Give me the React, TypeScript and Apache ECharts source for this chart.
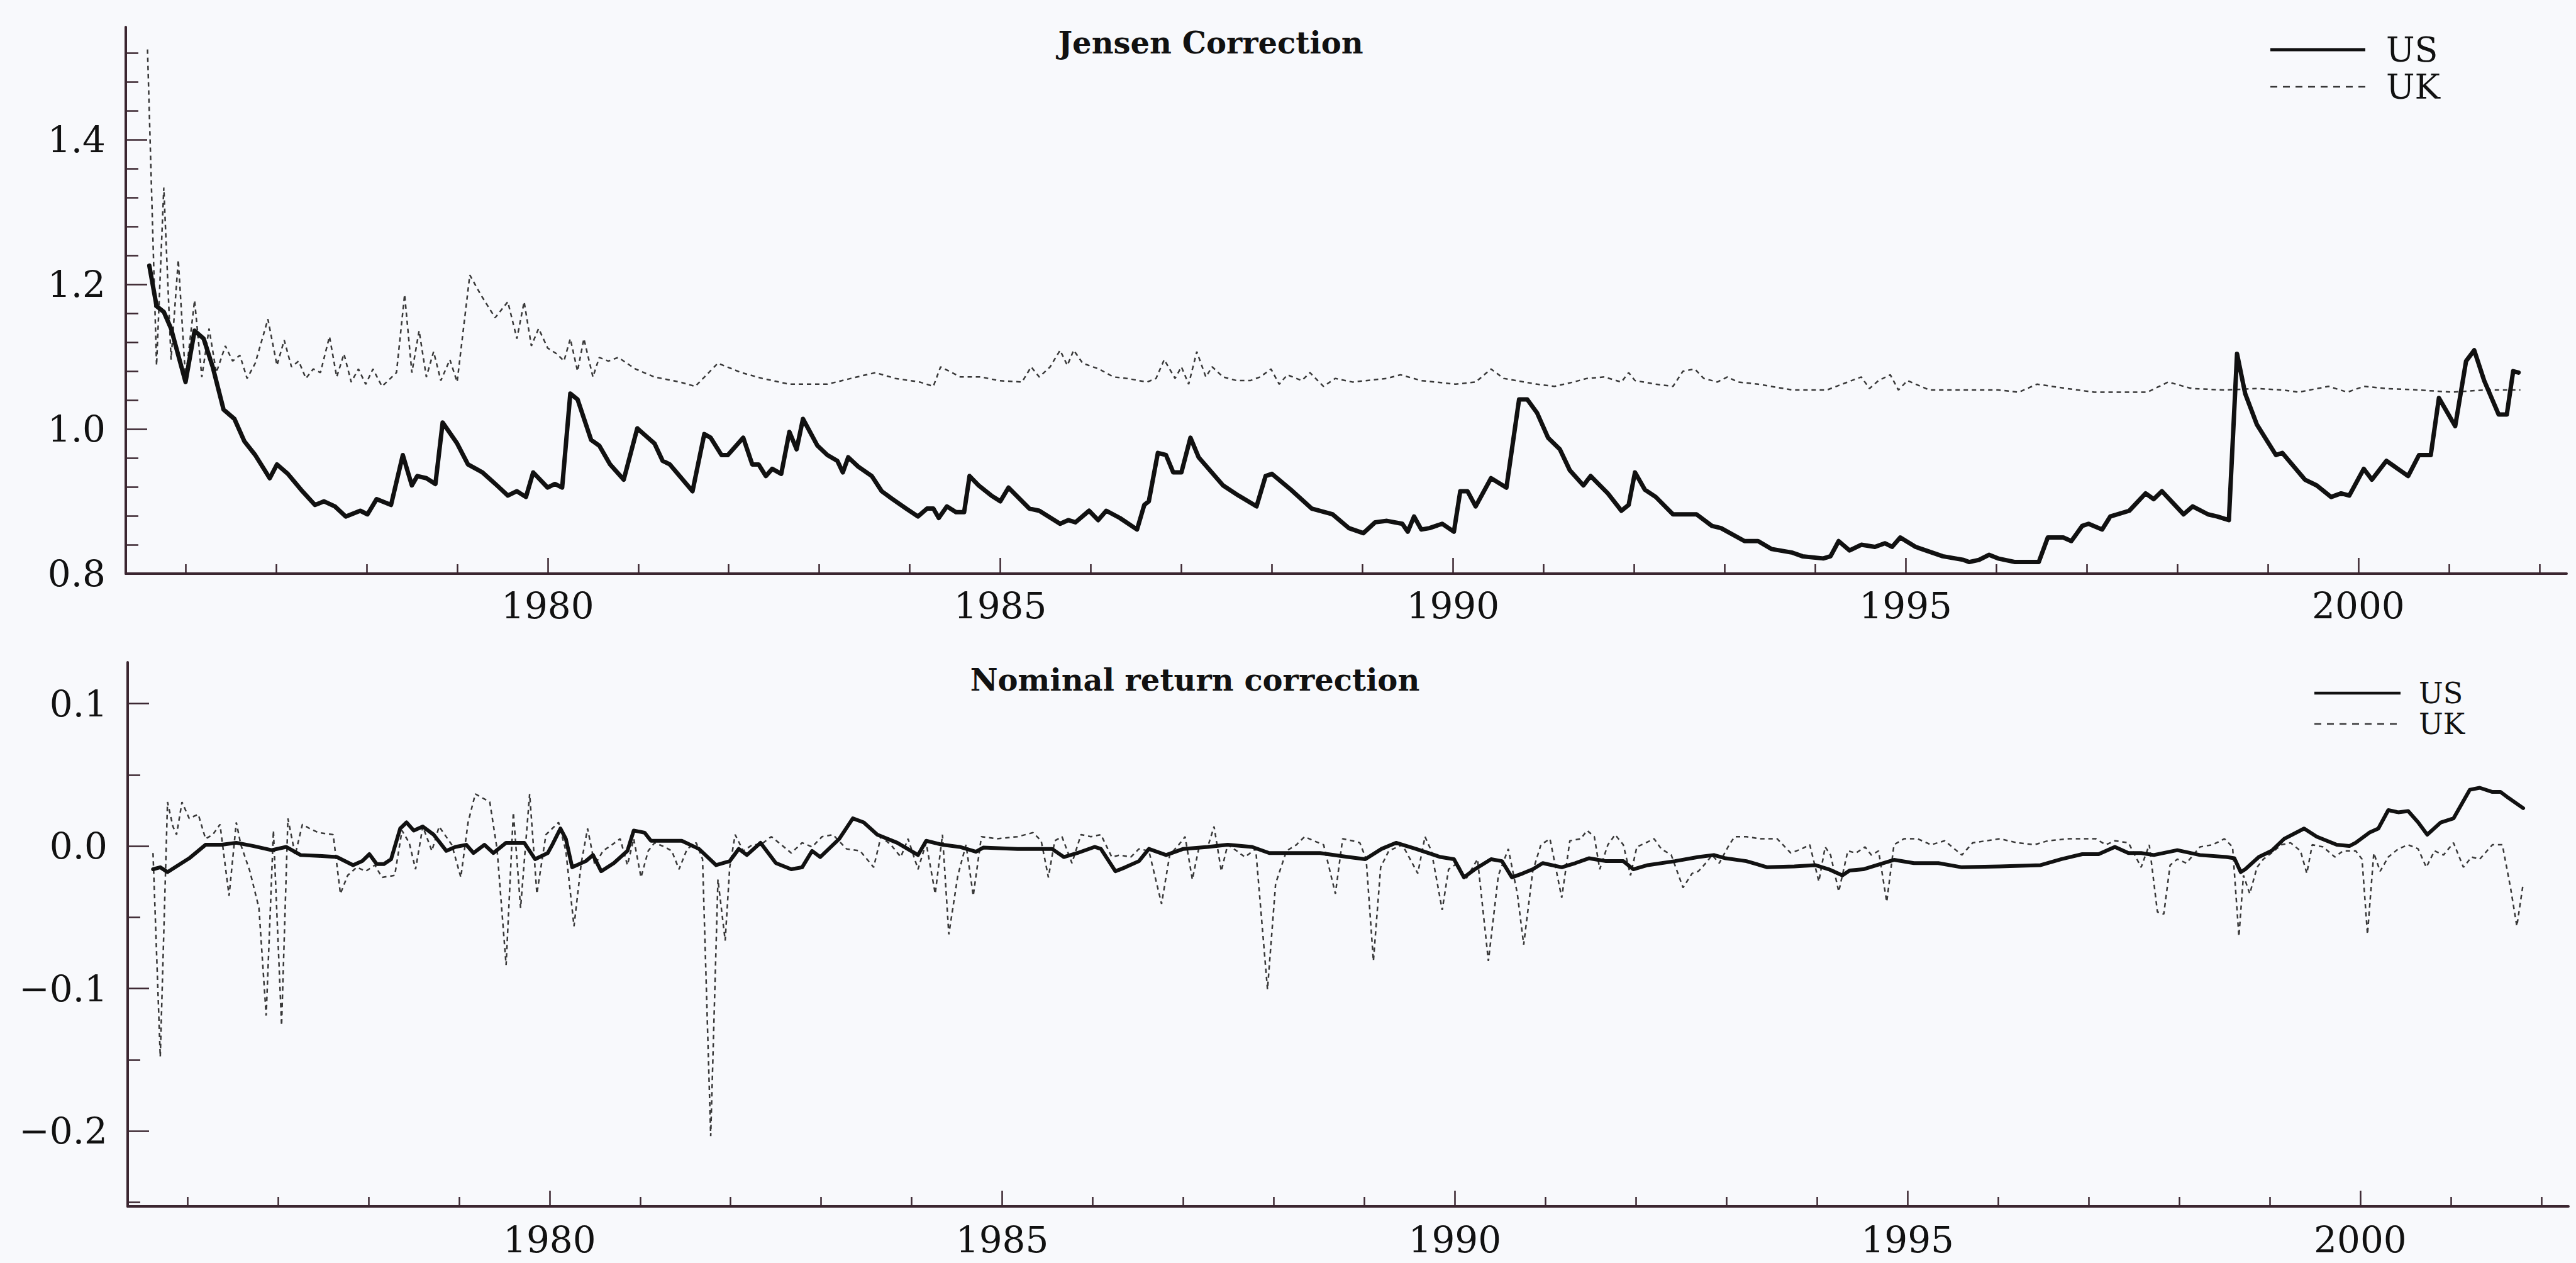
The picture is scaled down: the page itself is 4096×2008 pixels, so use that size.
import React, { useEffect, useRef } from "react";
import * as echarts from "echarts";

// Time axis (years) shared by both panels
const X_MIN = 1975.34;
const X_MAX = 2002.3;
const yearMajor = [1980, 1985, 1990, 1995, 2000];
const yearMinor = [1976, 1977, 1978, 1979, 1981, 1982, 1983, 1984, 1986, 1987, 1988, 1989, 1991, 1992, 1993, 1994, 1996, 1997, 1998, 1999, 2001, 2002];

// Upper panel value axis
const jensenMin = 0.8;
const jensenMax = 1.556;
const jensenMajor = [0.8, 1.0, 1.2, 1.4];
const jensenMinor = [0.84, 0.88, 0.92, 0.96, 1.04, 1.08, 1.12, 1.16, 1.24, 1.28, 1.32, 1.36, 1.44, 1.48, 1.52];

// Lower panel value axis
const nominalMin = -0.253;
const nominalMax = 0.129;
const nominalMajor = [-0.2, -0.1, 0.0, 0.1];
const nominalMinor = [-0.25, -0.15, -0.05, 0.05];

// Jensen correction, US  [year, value]
const jensenUS = [[1975.60,1.226],[1975.68,1.170],[1975.76,1.162],[1975.84,1.139],[1976.00,1.065],[1976.10,1.136],[1976.20,1.125],[1976.30,1.086],[1976.42,1.027],[1976.54,1.014],[1976.65,0.983],[1976.77,0.964],[1976.93,0.932],[1977.01,0.951],[1977.13,0.938],[1977.29,0.914],[1977.43,0.895],[1977.53,0.900],[1977.65,0.893],[1977.77,0.879],[1977.93,0.887],[1978.01,0.882],[1978.11,0.903],[1978.27,0.895],[1978.40,0.964],[1978.50,0.922],[1978.56,0.935],[1978.66,0.932],[1978.76,0.924],[1978.84,1.009],[1979.00,0.980],[1979.12,0.951],[1979.28,0.940],[1979.44,0.922],[1979.56,0.908],[1979.66,0.914],[1979.76,0.906],[1979.84,0.940],[1980.00,0.919],[1980.08,0.924],[1980.16,0.919],[1980.25,1.049],[1980.33,1.041],[1980.48,0.985],[1980.57,0.977],[1980.69,0.951],[1980.84,0.930],[1980.99,1.001],[1981.18,0.980],[1981.27,0.956],[1981.35,0.951],[1981.60,0.914],[1981.73,0.993],[1981.80,0.988],[1981.92,0.964],[1981.99,0.964],[1982.16,0.988],[1982.26,0.951],[1982.33,0.951],[1982.41,0.935],[1982.48,0.945],[1982.58,0.938],[1982.67,0.996],[1982.75,0.972],[1982.82,1.014],[1982.98,0.977],[1983.09,0.964],[1983.20,0.956],[1983.26,0.940],[1983.32,0.961],[1983.43,0.948],[1983.58,0.935],[1983.69,0.914],[1983.81,0.903],[1983.96,0.890],[1984.09,0.879],[1984.19,0.890],[1984.26,0.890],[1984.32,0.877],[1984.41,0.893],[1984.51,0.885],[1984.60,0.885],[1984.66,0.935],[1984.76,0.922],[1984.90,0.908],[1985.00,0.900],[1985.09,0.919],[1985.32,0.890],[1985.43,0.887],[1985.66,0.869],[1985.75,0.874],[1985.83,0.871],[1985.98,0.887],[1986.08,0.874],[1986.17,0.887],[1986.32,0.877],[1986.51,0.861],[1986.59,0.895],[1986.64,0.900],[1986.74,0.967],[1986.83,0.964],[1986.91,0.940],[1987.00,0.940],[1987.10,0.988],[1987.19,0.961],[1987.46,0.922],[1987.63,0.908],[1987.83,0.893],[1987.93,0.935],[1988.00,0.938],[1988.21,0.916],[1988.44,0.890],[1988.67,0.882],[1988.85,0.863],[1989.01,0.856],[1989.14,0.871],[1989.27,0.873],[1989.44,0.869],[1989.50,0.858],[1989.57,0.879],[1989.65,0.861],[1989.74,0.863],[1989.88,0.869],[1990.01,0.858],[1990.08,0.914],[1990.16,0.914],[1990.25,0.893],[1990.42,0.932],[1990.59,0.919],[1990.73,1.041],[1990.82,1.041],[1990.93,1.022],[1991.05,0.988],[1991.18,0.972],[1991.29,0.943],[1991.44,0.922],[1991.52,0.935],[1991.71,0.911],[1991.86,0.887],[1991.94,0.895],[1992.01,0.940],[1992.12,0.916],[1992.24,0.906],[1992.43,0.882],[1992.69,0.882],[1992.86,0.866],[1992.96,0.863],[1993.22,0.845],[1993.37,0.845],[1993.52,0.834],[1993.75,0.829],[1993.86,0.824],[1994.09,0.821],[1994.17,0.824],[1994.26,0.845],[1994.38,0.832],[1994.51,0.840],[1994.66,0.837],[1994.77,0.842],[1994.85,0.837],[1994.94,0.850],[1995.11,0.837],[1995.41,0.824],[1995.64,0.819],[1995.70,0.816],[1995.81,0.819],[1995.92,0.826],[1996.02,0.821],[1996.21,0.816],[1996.47,0.816],[1996.57,0.850],[1996.74,0.850],[1996.83,0.845],[1996.95,0.866],[1997.02,0.869],[1997.17,0.861],[1997.26,0.879],[1997.47,0.887],[1997.65,0.911],[1997.74,0.903],[1997.83,0.914],[1998.07,0.882],[1998.17,0.893],[1998.34,0.882],[1998.44,0.879],[1998.57,0.874],[1998.66,1.104],[1998.75,1.049],[1998.88,1.006],[1999.09,0.964],[1999.16,0.967],[1999.41,0.930],[1999.54,0.922],[1999.70,0.906],[1999.81,0.911],[1999.90,0.908],[2000.06,0.945],[2000.15,0.930],[2000.31,0.956],[2000.55,0.935],[2000.67,0.964],[2000.80,0.964],[2000.89,1.043],[2001.07,1.004],[2001.19,1.094],[2001.28,1.109],[2001.39,1.067],[2001.55,1.020],[2001.64,1.020],[2001.71,1.080],[2001.77,1.078]];

// Jensen correction, UK  [year, value]
const jensenUK = [[1975.58,1.525],[1975.68,1.088],[1975.76,1.334],[1975.84,1.096],[1975.92,1.234],[1976.00,1.070],[1976.10,1.178],[1976.18,1.072],[1976.26,1.139],[1976.34,1.078],[1976.44,1.115],[1976.52,1.094],[1976.60,1.102],[1976.68,1.070],[1976.77,1.091],[1976.91,1.152],[1977.01,1.088],[1977.09,1.123],[1977.17,1.086],[1977.25,1.094],[1977.33,1.070],[1977.41,1.083],[1977.49,1.078],[1977.59,1.128],[1977.67,1.072],[1977.75,1.104],[1977.83,1.065],[1977.91,1.083],[1977.99,1.062],[1978.07,1.083],[1978.17,1.059],[1978.33,1.078],[1978.42,1.186],[1978.50,1.078],[1978.58,1.136],[1978.66,1.072],[1978.74,1.107],[1978.82,1.067],[1978.92,1.096],[1979.00,1.065],[1979.14,1.213],[1979.26,1.186],[1979.42,1.154],[1979.56,1.176],[1979.66,1.125],[1979.74,1.176],[1979.82,1.115],[1979.90,1.139],[1980.00,1.112],[1980.10,1.104],[1980.18,1.094],[1980.25,1.125],[1980.33,1.080],[1980.40,1.125],[1980.50,1.072],[1980.57,1.099],[1980.67,1.094],[1980.78,1.099],[1980.97,1.083],[1981.18,1.072],[1981.46,1.065],[1981.63,1.059],[1981.88,1.091],[1982.14,1.078],[1982.37,1.070],[1982.67,1.062],[1982.90,1.062],[1983.09,1.062],[1983.35,1.070],[1983.62,1.078],[1983.84,1.070],[1984.11,1.065],[1984.26,1.059],[1984.34,1.086],[1984.56,1.072],[1984.79,1.072],[1984.98,1.067],[1985.24,1.065],[1985.34,1.086],[1985.43,1.072],[1985.55,1.086],[1985.66,1.109],[1985.74,1.088],[1985.81,1.109],[1985.91,1.091],[1986.09,1.083],[1986.25,1.072],[1986.40,1.070],[1986.62,1.065],[1986.72,1.070],[1986.81,1.096],[1986.93,1.070],[1987.00,1.086],[1987.08,1.062],[1987.17,1.107],[1987.27,1.072],[1987.34,1.086],[1987.46,1.072],[1987.61,1.067],[1987.76,1.067],[1987.87,1.072],[1987.99,1.083],[1988.08,1.062],[1988.17,1.075],[1988.33,1.067],[1988.42,1.078],[1988.57,1.059],[1988.70,1.070],[1988.89,1.065],[1989.27,1.070],[1989.42,1.075],[1989.65,1.067],[1990.03,1.062],[1990.25,1.065],[1990.42,1.083],[1990.56,1.070],[1990.93,1.062],[1991.12,1.059],[1991.33,1.065],[1991.48,1.070],[1991.67,1.072],[1991.86,1.065],[1991.94,1.078],[1992.01,1.067],[1992.24,1.062],[1992.43,1.059],[1992.54,1.080],[1992.67,1.083],[1992.77,1.070],[1992.92,1.065],[1993.03,1.072],[1993.15,1.065],[1993.37,1.062],[1993.75,1.054],[1994.13,1.054],[1994.36,1.065],[1994.51,1.072],[1994.60,1.056],[1994.70,1.067],[1994.83,1.075],[1994.92,1.054],[1995.02,1.067],[1995.26,1.054],[1995.64,1.054],[1996.02,1.054],[1996.25,1.051],[1996.45,1.062],[1996.78,1.056],[1997.08,1.051],[1997.44,1.051],[1997.67,1.051],[1997.90,1.065],[1998.16,1.056],[1998.52,1.054],[1998.88,1.056],[1999.16,1.054],[1999.34,1.051],[1999.67,1.059],[1999.88,1.051],[2000.06,1.059],[2000.31,1.056],[2000.67,1.054],[2001.03,1.051],[2001.39,1.054],[2001.79,1.054]];

// Nominal return correction, US  [year, value]
const nominalUS = [[1975.62,-0.0163],[1975.70,-0.0149],[1975.78,-0.0183],[1975.90,-0.0134],[1976.02,-0.0086],[1976.20,0.0009],[1976.38,0.0009],[1976.54,0.0023],[1976.73,0.0],[1976.93,-0.0029],[1977.09,-0.0006],[1977.25,-0.0063],[1977.45,-0.0069],[1977.65,-0.0077],[1977.83,-0.0134],[1977.93,-0.0106],[1978.01,-0.0057],[1978.09,-0.0126],[1978.17,-0.0126],[1978.25,-0.0092],[1978.35,0.0123],[1978.42,0.0166],[1978.50,0.0109],[1978.60,0.0137],[1978.72,0.008],[1978.86,-0.0034],[1978.96,-0.0006],[1979.08,0.0009],[1979.16,-0.0049],[1979.28,0.0009],[1979.38,-0.0049],[1979.52,0.0023],[1979.72,0.0023],[1979.84,-0.0092],[1979.98,-0.0049],[1980.03,0.0009],[1980.12,0.0123],[1980.18,0.0051],[1980.25,-0.0149],[1980.40,-0.0106],[1980.48,-0.0063],[1980.57,-0.0177],[1980.71,-0.012],[1980.86,-0.0034],[1980.93,0.0109],[1981.05,0.0094],[1981.12,0.0037],[1981.46,0.0037],[1981.65,-0.002],[1981.84,-0.0134],[1981.99,-0.0106],[1982.09,-0.002],[1982.18,-0.0063],[1982.33,0.0023],[1982.50,-0.012],[1982.67,-0.0163],[1982.79,-0.0149],[1982.90,-0.0034],[1982.99,-0.0077],[1983.20,0.0051],[1983.35,0.0194],[1983.47,0.0166],[1983.62,0.008],[1983.84,0.0023],[1984.07,-0.0063],[1984.16,0.0037],[1984.34,0.0009],[1984.53,-0.0006],[1984.71,-0.004],[1984.79,-0.0011],[1985.17,-0.002],[1985.55,-0.002],[1985.68,-0.0077],[1985.83,-0.0049],[1986.02,-0.0006],[1986.09,-0.002],[1986.25,-0.0177],[1986.36,-0.0149],[1986.51,-0.0106],[1986.62,-0.002],[1986.81,-0.0063],[1987.00,-0.002],[1987.27,-0.0006],[1987.49,0.0009],[1987.76,-0.0006],[1987.95,-0.0049],[1988.21,-0.0049],[1988.51,-0.0049],[1988.82,-0.0077],[1989.01,-0.0092],[1989.19,-0.002],[1989.35,0.0023],[1989.57,-0.002],[1989.84,-0.0077],[1989.99,-0.0092],[1990.10,-0.022],[1990.22,-0.0163],[1990.40,-0.0092],[1990.52,-0.0106],[1990.63,-0.022],[1990.75,-0.0192],[1990.86,-0.0163],[1990.97,-0.012],[1991.18,-0.0149],[1991.33,-0.012],[1991.48,-0.0086],[1991.67,-0.0106],[1991.86,-0.0106],[1991.97,-0.0163],[1992.13,-0.0134],[1992.43,-0.0106],[1992.69,-0.0077],[1992.86,-0.0063],[1992.99,-0.0086],[1993.22,-0.0106],[1993.45,-0.0149],[1993.75,-0.0143],[1993.98,-0.0134],[1994.13,-0.0163],[1994.28,-0.0206],[1994.36,-0.0172],[1994.51,-0.0163],[1994.73,-0.012],[1994.85,-0.0097],[1995.07,-0.012],[1995.34,-0.012],[1995.60,-0.0149],[1996.02,-0.0143],[1996.47,-0.0134],[1996.70,-0.0092],[1996.93,-0.0057],[1997.11,-0.0057],[1997.29,-0.0006],[1997.44,-0.0049],[1997.58,-0.0049],[1997.72,-0.0063],[1997.98,-0.0029],[1998.23,-0.0063],[1998.52,-0.0077],[1998.61,-0.0086],[1998.68,-0.0183],[1998.73,-0.0163],[1998.88,-0.0077],[1999.02,-0.0034],[1999.16,0.0051],[1999.38,0.0123],[1999.52,0.0066],[1999.74,0.0009],[1999.88,0.0],[1999.95,0.0023],[2000.10,0.0094],[2000.20,0.0123],[2000.31,0.0252],[2000.42,0.0237],[2000.53,0.0246],[2000.64,0.0166],[2000.74,0.008],[2000.89,0.0166],[2001.03,0.0194],[2001.21,0.0395],[2001.32,0.0409],[2001.46,0.038],[2001.55,0.038],[2001.64,0.0337],[2001.80,0.0266]];

// Nominal return correction, UK  [year, value]
const nominalUK = [[1975.62,-0.0049],[1975.70,-0.148],[1975.78,0.0309],[1975.84,0.0137],[1975.88,0.008],[1975.94,0.0309],[1976.02,0.0194],[1976.12,0.0223],[1976.20,0.0051],[1976.28,0.008],[1976.36,0.0152],[1976.46,-0.0349],[1976.54,0.0166],[1976.59,0.0009],[1976.69,-0.0177],[1976.79,-0.0435],[1976.87,-0.119],[1976.95,0.0109],[1977.04,-0.126],[1977.11,0.0194],[1977.19,-0.0063],[1977.27,0.0152],[1977.35,0.0123],[1977.45,0.0094],[1977.61,0.008],[1977.69,-0.0335],[1977.77,-0.0206],[1977.87,-0.0149],[1977.97,-0.0177],[1978.07,-0.0134],[1978.15,-0.022],[1978.29,-0.0206],[1978.37,0.0109],[1978.45,0.0023],[1978.52,-0.0163],[1978.60,0.0137],[1978.70,-0.0034],[1978.78,0.0137],[1978.92,0.0009],[1979.02,-0.022],[1979.10,0.0166],[1979.18,0.0366],[1979.34,0.0309],[1979.42,-0.002],[1979.52,-0.0835],[1979.60,0.0237],[1979.68,-0.0435],[1979.78,0.0366],[1979.86,-0.0335],[1979.96,0.008],[1980.10,0.0166],[1980.18,-0.0034],[1980.27,-0.0563],[1980.35,-0.012],[1980.42,0.0123],[1980.50,-0.0134],[1980.59,-0.0034],[1980.69,0.0009],[1980.78,0.0051],[1980.86,-0.0134],[1980.93,0.0051],[1981.01,-0.022],[1981.09,-0.0034],[1981.16,0.0023],[1981.27,-0.0006],[1981.35,-0.0034],[1981.43,-0.0163],[1981.52,-0.002],[1981.62,0.0023],[1981.69,-0.0092],[1981.78,-0.2036],[1981.86,-0.0235],[1981.94,-0.0664],[1981.99,-0.0149],[1982.05,0.008],[1982.14,-0.0034],[1982.24,0.0009],[1982.33,0.0009],[1982.45,0.0066],[1982.56,0.0009],[1982.67,-0.0049],[1982.79,0.0023],[1982.90,-0.0006],[1983.01,0.0066],[1983.13,0.008],[1983.28,-0.002],[1983.43,-0.0034],[1983.58,-0.0149],[1983.66,0.0066],[1983.77,0.0009],[1983.88,-0.0077],[1983.96,0.0051],[1984.07,-0.0163],[1984.16,0.0023],[1984.26,-0.0335],[1984.34,0.008],[1984.41,-0.062],[1984.51,-0.0206],[1984.60,0.0009],[1984.68,-0.0349],[1984.77,0.0066],[1984.94,0.0051],[1985.17,0.0066],[1985.34,0.0094],[1985.43,0.0037],[1985.51,-0.022],[1985.58,0.0037],[1985.66,0.0066],[1985.77,-0.012],[1985.87,0.008],[1985.98,0.0066],[1986.09,0.008],[1986.21,-0.0077],[1986.30,-0.0063],[1986.42,-0.0077],[1986.51,-0.002],[1986.62,-0.0034],[1986.76,-0.0406],[1986.85,-0.0063],[1986.95,0.0009],[1987.02,0.0066],[1987.10,-0.0235],[1987.17,-0.002],[1987.27,-0.0006],[1987.34,0.0137],[1987.42,-0.0177],[1987.49,0.0009],[1987.59,-0.0034],[1987.68,-0.0077],[1987.80,-0.002],[1987.93,-0.1007],[1988.02,-0.0263],[1988.14,-0.0034],[1988.25,0.0009],[1988.34,0.0066],[1988.44,0.0037],[1988.55,0.0009],[1988.68,-0.0335],[1988.76,0.0051],[1988.87,0.0037],[1988.95,0.0023],[1989.02,-0.0092],[1989.10,-0.0807],[1989.18,-0.0149],[1989.27,-0.0034],[1989.42,0.0009],[1989.59,-0.0192],[1989.67,0.0066],[1989.74,-0.0034],[1989.86,-0.0449],[1989.93,-0.0163],[1990.03,-0.012],[1990.12,-0.0235],[1990.25,-0.0092],[1990.37,-0.0807],[1990.48,-0.0206],[1990.59,-0.002],[1990.69,-0.0335],[1990.76,-0.0692],[1990.86,-0.0177],[1990.95,0.0009],[1991.05,0.0051],[1991.18,-0.0363],[1991.27,0.0037],[1991.39,0.0051],[1991.46,0.0109],[1991.54,0.0066],[1991.60,-0.0163],[1991.69,0.0009],[1991.77,0.008],[1991.86,0.0009],[1991.94,-0.0206],[1992.01,-0.0006],[1992.11,0.0023],[1992.20,0.0051],[1992.28,-0.002],[1992.39,-0.0063],[1992.52,-0.0292],[1992.62,-0.0192],[1992.69,-0.0177],[1992.79,-0.0106],[1992.84,-0.0063],[1992.92,-0.012],[1993.03,0.0009],[1993.09,0.0066],[1993.22,0.0066],[1993.37,0.0051],[1993.56,0.0051],[1993.71,-0.0049],[1993.83,-0.002],[1993.92,0.0009],[1994.02,-0.0249],[1994.09,-0.0006],[1994.15,-0.0063],[1994.24,-0.032],[1994.34,-0.0034],[1994.43,-0.0049],[1994.53,-0.0006],[1994.60,-0.0063],[1994.68,-0.0034],[1994.77,-0.0392],[1994.85,0.0009],[1994.96,0.0051],[1995.11,0.0051],[1995.26,0.0009],[1995.41,0.0037],[1995.60,-0.0063],[1995.72,0.0023],[1995.87,0.0037],[1996.02,0.0051],[1996.21,0.0023],[1996.40,0.0009],[1996.55,0.0037],[1996.78,0.0051],[1997.08,0.0051],[1997.19,0.0009],[1997.29,0.0037],[1997.44,0.0023],[1997.58,-0.0149],[1997.67,0.0009],[1997.76,-0.0463],[1997.83,-0.0478],[1997.90,-0.0134],[1997.98,-0.0092],[1998.08,-0.012],[1998.23,-0.0006],[1998.37,0.0009],[1998.50,0.0051],[1998.59,-0.0006],[1998.66,-0.0635],[1998.71,-0.0206],[1998.78,-0.0335],[1998.86,-0.0149],[1998.93,-0.0092],[1999.02,-0.0049],[1999.13,0.0009],[1999.23,0.0023],[1999.34,-0.0034],[1999.41,-0.0192],[1999.47,0.0009],[1999.59,-0.0006],[1999.72,-0.0077],[1999.81,-0.0034],[1999.95,-0.0034],[2000.02,-0.0092],[2000.08,-0.062],[2000.15,-0.0049],[2000.22,-0.0177],[2000.31,-0.0077],[2000.42,-0.002],[2000.53,0.0009],[2000.64,-0.002],[2000.73,-0.0149],[2000.82,-0.0034],[2000.92,-0.0063],[2001.03,0.0023],[2001.14,-0.0149],[2001.23,-0.0077],[2001.32,-0.0092],[2001.46,0.0009],[2001.57,0.0009],[2001.66,-0.0292],[2001.73,-0.0563],[2001.80,-0.0263]];

const panelTitles = ["Jensen Correction", "Nominal return correction"];
const seriesNames = ["US", "UK"];

const SERIF = '"DejaVu Serif", "Liberation Serif", serif';
const INK = "#111111";
const AXIS = "#3b2630";
const DOT = "#383838";
const BG = "#f8f9fc";

function fmt(v: number) {
  return v.toFixed(1).replace("-", "\u2212");
}

function xAxes(gridIndex: number, labelMargin: number) {
  const common = {
    type: "value",
    gridIndex,
    min: X_MIN,
    max: X_MAX,
    position: "bottom",
    splitLine: { show: false },
  };
  return [
    {
      ...common,
      axisLine: { show: true, onZero: false, lineStyle: { color: AXIS, width: 4 } },
      axisTick: { show: true, inside: true, length: 25, customValues: yearMajor, lineStyle: { color: AXIS, width: 2.5 } },
      axisLabel: {
        show: true,
        customValues: yearMajor,
        margin: labelMargin,
        color: INK,
        fontFamily: SERIF,
        fontSize: 58,
        formatter: (v: number) => String(Math.round(v)),
      },
    },
    {
      ...common,
      axisLine: { show: false, onZero: false },
      axisTick: { show: true, inside: true, length: 15, customValues: yearMinor, lineStyle: { color: AXIS, width: 2.5 } },
      axisLabel: { show: false },
    },
  ];
}

function yAxes(gridIndex: number, min: number, max: number, major: number[], minor: number[]) {
  const common = {
    type: "value",
    gridIndex,
    min,
    max,
    position: "left",
    splitLine: { show: false },
  };
  return [
    {
      ...common,
      axisLine: { show: true, onZero: false, lineStyle: { color: AXIS, width: 4 } },
      axisTick: { show: true, inside: true, length: 34, customValues: major, lineStyle: { color: AXIS, width: 2.5 } },
      axisLabel: {
        show: true,
        customValues: major,
        margin: 32,
        color: INK,
        fontFamily: SERIF,
        fontSize: 58,
        formatter: (v: number) => fmt(v),
      },
    },
    {
      ...common,
      axisLine: { show: false, onZero: false },
      axisTick: { show: true, inside: true, length: 20, customValues: minor, lineStyle: { color: AXIS, width: 2.5 } },
      axisLabel: { show: false },
    },
  ];
}

function legend(x1: number, x2: number, yUS: number, yUK: number, textX: number, fontSize: number, usWidth: number) {
  return [
    { type: "line", shape: { x1, y1: yUS, x2, y2: yUS }, style: { stroke: INK, lineWidth: usWidth } },
    { type: "line", shape: { x1, y1: yUK, x2, y2: yUK }, style: { stroke: DOT, lineWidth: 2.5, lineDash: [11, 9] } },
    {
      type: "text",
      x: textX,
      y: yUS,
      style: { text: seriesNames[0], fontFamily: SERIF, fontSize, fill: INK, align: "left", verticalAlign: "middle" },
    },
    {
      type: "text",
      x: textX,
      y: yUK,
      style: { text: seriesNames[1], fontFamily: SERIF, fontSize, fill: INK, align: "left", verticalAlign: "middle" },
    },
  ];
}

export default function App() {
  const ref = useRef<HTMLDivElement>(null);

  useEffect(() => {
    document.body.style.margin = "0";
    document.body.style.background = BG;
    if (!ref.current) return;
    const chart = echarts.init(ref.current, undefined, { renderer: "svg" });

    const option = {
      animation: false,
      backgroundColor: BG,
      grid: [
        { left: 200, top: 43, width: 3881, height: 869 },
        { left: 203, top: 1053, width: 3881, height: 865 },
      ],
      xAxis: [...xAxes(0, 22), ...xAxes(1, 24)],
      yAxis: [
        ...yAxes(0, jensenMin, jensenMax, jensenMajor, jensenMinor),
        ...yAxes(1, nominalMin, nominalMax, nominalMajor, nominalMinor),
      ],
      series: [
        {
          name: seriesNames[1],
          type: "line",
          xAxisIndex: 0,
          yAxisIndex: 0,
          data: jensenUK,
          showSymbol: false,
          symbol: "none",
          silent: true,
          lineStyle: { color: DOT, width: 2.5, type: [7, 6] },
        },
        {
          name: seriesNames[0],
          type: "line",
          xAxisIndex: 0,
          yAxisIndex: 0,
          data: jensenUS,
          showSymbol: false,
          symbol: "none",
          silent: true,
          lineStyle: { color: INK, width: 7, join: "round", cap: "round" },
        },
        {
          name: seriesNames[1],
          type: "line",
          xAxisIndex: 2,
          yAxisIndex: 2,
          data: nominalUK,
          showSymbol: false,
          symbol: "none",
          silent: true,
          lineStyle: { color: DOT, width: 2.5, type: [7, 6] },
        },
        {
          name: seriesNames[0],
          type: "line",
          xAxisIndex: 2,
          yAxisIndex: 2,
          data: nominalUS,
          showSymbol: false,
          symbol: "none",
          silent: true,
          lineStyle: { color: INK, width: 6, join: "round", cap: "round" },
        },
      ],
      graphic: [
        {
          type: "text",
          x: 1925,
          y: 68,
          style: { text: panelTitles[0], fontFamily: SERIF, fontWeight: "bold", fontSize: 48, fill: INK, align: "center", verticalAlign: "middle" },
        },
        {
          type: "text",
          x: 1900,
          y: 1081,
          style: { text: panelTitles[1], fontFamily: SERIF, fontWeight: "bold", fontSize: 48, fill: INK, align: "center", verticalAlign: "middle" },
        },
        ...legend(3610, 3761, 79, 138, 3794, 54, 5),
        ...legend(3680, 3817, 1102, 1151, 3846, 46, 4.5),
      ],
    };

    chart.setOption(option as any);
    return () => chart.dispose();
  }, []);

  return <div ref={ref} style={{ width: 4096, height: 2008 }} />;
}
